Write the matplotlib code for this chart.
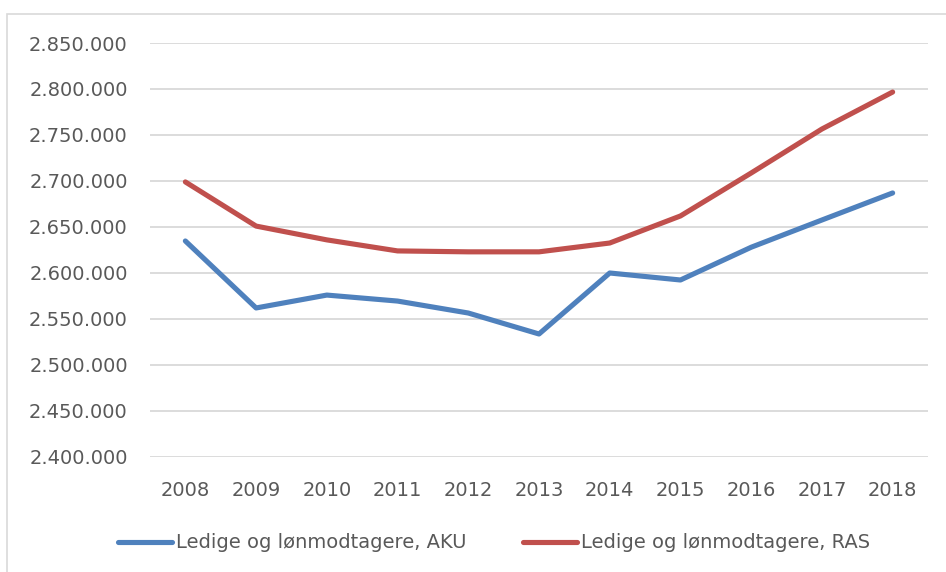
import matplotlib
matplotlib.use("Agg")
import matplotlib.pyplot as plt
from matplotlib.patches import Rectangle
from matplotlib.ticker import FuncFormatter

years = ["2008", "2009", "2010", "2011", "2012", "2013", "2014", "2015", "2016", "2017", "2018"]
aku = [2634800, 2562000, 2576000, 2569500, 2556500, 2533700, 2600000, 2592400, 2628000, 2657600, 2687000]
ras = [2699000, 2651000, 2636000, 2624000, 2623000, 2623000, 2632600, 2662000, 2708700, 2756500, 2796700]
labels = ["Ledige og lønmodtagere, AKU", "Ledige og lønmodtagere, RAS"]

plt.rcParams['font.family'] = ['DejaVu Sans']

fig = plt.figure(figsize=(9.46, 5.72), dpi=100)
W, H = 946, 572
ax = fig.add_axes([150 / W, 1 - 457 / H, (928 - 150) / W, (457 - 43) / H])

x = list(range(len(years)))
ax.plot(x, aku, color="#4F81BD", lw=3.7, solid_capstyle="round", solid_joinstyle="round", label=labels[0])
ax.plot(x, ras, color="#C0504D", lw=3.7, solid_capstyle="round", solid_joinstyle="round", label=labels[1])

ax.set_xlim(-0.5, len(years) - 0.5)
ax.set_ylim(2400000, 2850000)
ax.set_yticks(range(2400000, 2850001, 50000))
ax.yaxis.set_major_formatter(FuncFormatter(lambda v, p: f"{int(v):,}".replace(",", ".")))
ax.set_xticks(x)
ax.set_xticklabels(years)
ax.grid(axis="y", color="#D9D9D9", lw=1.3)
ax.set_axisbelow(True)
for s in ax.spines.values():
    s.set_visible(False)
ax.tick_params(axis="both", length=0, labelsize=14, labelcolor="#595959")
ax.tick_params(axis="y", pad=16)
ax.tick_params(axis="x", pad=17)

leg = fig.legend(loc="center", bbox_to_anchor=(494 / W, 1 - 543 / H), ncol=2, frameon=False,
                 fontsize=14, handlelength=2.8, handletextpad=0.2, columnspacing=2.9)
for t in leg.get_texts():
    t.set_color("#595959")

fig.patches.append(Rectangle((7 / W, -0.05), 1.2, 1 - 14 / H + 0.05, transform=fig.transFigure,
                             fill=False, edgecolor="#D9D9D9", lw=1.2))

fig.savefig("out.png", dpi=100)
